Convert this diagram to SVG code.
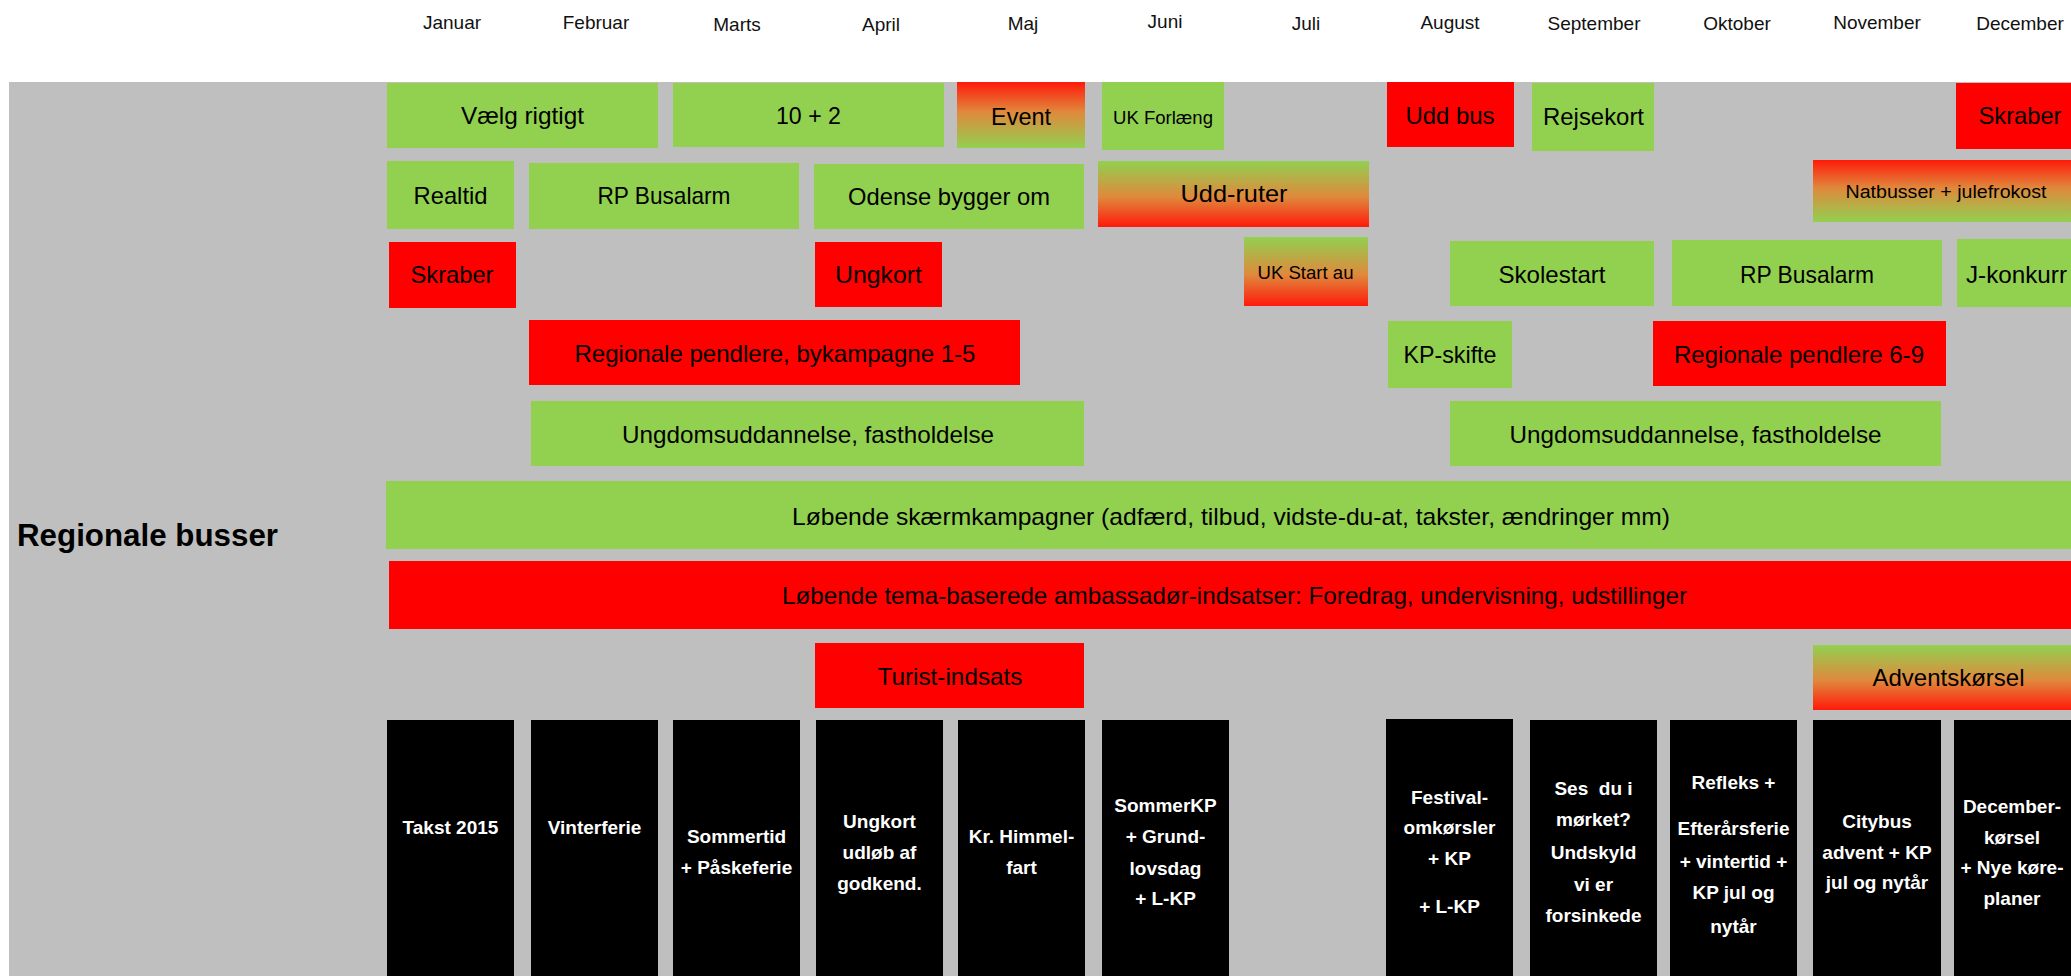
<svg xmlns="http://www.w3.org/2000/svg" width="2071" height="976" viewBox="0 0 2071 976">
<style>
.bg{fill:#BFBFBF}
.g{fill:#92D050}
.r{fill:#FF0000}
.k{fill:#000000}
.rg{fill:url(#gradRG)}
.gr{fill:url(#gradGR)}
text{font-family:"Liberation Sans",Arial,sans-serif;text-anchor:middle;fill:#000}
.t{font-size:24px}
.ts{font-size:17.5px}
.m{font-size:19px;fill:#111}
.w{font-size:19px;font-weight:bold;fill:#fff}
.title{font-size:32px;font-weight:bold;text-anchor:start}
</style>
<defs>
<linearGradient id="gradRG" x1="0" y1="0" x2="0" y2="1">
<stop offset="0" stop-color="#FF1A0A"/>
<stop offset="0.45" stop-color="#E0883C"/>
<stop offset="1" stop-color="#92D050"/>
</linearGradient>
<linearGradient id="gradGR" x1="0" y1="0" x2="0" y2="1">
<stop offset="0" stop-color="#92D050"/>
<stop offset="0.55" stop-color="#E0883C"/>
<stop offset="1" stop-color="#FF1A0A"/>
</linearGradient>
</defs>
<rect x="0" y="0" width="2071" height="976" fill="#ffffff"/>
<g id="months">
<text class="m" x="452" y="29">Januar</text>
<text class="m" x="596" y="29">Februar</text>
<text class="m" x="737" y="31">Marts</text>
<text class="m" x="881" y="31">April</text>
<text class="m" x="1023" y="30">Maj</text>
<text class="m" x="1165" y="28">Juni</text>
<text class="m" x="1306" y="30">Juli</text>
<text class="m" x="1450" y="29">August</text>
<text class="m" x="1594" y="30">September</text>
<text class="m" x="1737" y="30">Oktober</text>
<text class="m" x="1877" y="29">November</text>
<text class="m" x="2020" y="30">December</text>
</g>
<g id="lane">
<rect class="bg" x="9" y="82" width="2062" height="894"/>
<text class="title" x="17" y="546" textLength="261" lengthAdjust="spacingAndGlyphs">Regionale busser</text>
</g>
<g id="connectors"/>
<g id="n-vaelg-rigtigt"><rect class="g" x="387" y="83" width="271" height="65"/><text class="t" x="522.5" y="124" textLength="123" lengthAdjust="spacingAndGlyphs">Vælg rigtigt</text></g>
<g id="n-10-2"><rect class="g" x="673" y="83" width="271" height="64"/><text class="t" x="808.5" y="124" textLength="65" lengthAdjust="spacingAndGlyphs">10 + 2</text></g>
<g id="n-event"><rect class="rg" x="957" y="82" width="128" height="66"/><text class="t" x="1021" y="125" textLength="60" lengthAdjust="spacingAndGlyphs">Event</text></g>
<g id="n-uk-forlaeng"><rect class="g" x="1102" y="82" width="122" height="68"/><text class="ts" x="1163" y="124" textLength="100" lengthAdjust="spacingAndGlyphs">UK Forlæng</text></g>
<g id="n-udd-bus"><rect class="r" x="1387" y="82" width="127" height="65"/><text class="t" x="1450" y="124" textLength="89" lengthAdjust="spacingAndGlyphs">Udd bus</text></g>
<g id="n-rejsekort"><rect class="g" x="1532" y="83" width="122" height="68"/><text class="t" x="1593.5" y="125" textLength="101" lengthAdjust="spacingAndGlyphs">Rejsekort</text></g>
<g id="n-skraber-dec"><rect class="r" x="1956" y="83" width="130" height="66"/><text class="t" x="2020" y="124" textLength="83" lengthAdjust="spacingAndGlyphs">Skraber</text></g>

<g id="n-realtid"><rect class="g" x="387" y="161" width="127" height="68"/><text class="t" x="450.5" y="204" textLength="74" lengthAdjust="spacingAndGlyphs">Realtid</text></g>
<g id="n-rp-busalarm-1"><rect class="g" x="529" y="163" width="270" height="66"/><text class="t" x="664" y="204" textLength="133" lengthAdjust="spacingAndGlyphs">RP Busalarm</text></g>
<g id="n-odense"><rect class="g" x="814" y="164" width="270" height="65"/><text class="t" x="949" y="205" textLength="202" lengthAdjust="spacingAndGlyphs">Odense bygger om</text></g>
<g id="n-udd-ruter"><rect class="gr" x="1098" y="161" width="271" height="66"/><text class="t" x="1234" y="202" textLength="107" lengthAdjust="spacingAndGlyphs">Udd-ruter</text></g>
<g id="n-natbusser"><rect class="rg" x="1813" y="160" width="270" height="62"/><text class="ts" x="1946" y="198" textLength="201" lengthAdjust="spacingAndGlyphs">Natbusser + julefrokost</text></g>

<g id="n-skraber-jan"><rect class="r" x="389" y="242" width="127" height="66"/><text class="t" x="452" y="283" textLength="83" lengthAdjust="spacingAndGlyphs">Skraber</text></g>
<g id="n-ungkort"><rect class="r" x="815" y="242" width="127" height="65"/><text class="t" x="878.5" y="283" textLength="87" lengthAdjust="spacingAndGlyphs">Ungkort</text></g>
<g id="n-uk-start"><rect class="gr" x="1244" y="237" width="124" height="69"/><text class="ts" x="1305.5" y="279" textLength="96" lengthAdjust="spacingAndGlyphs">UK Start au</text></g>
<g id="n-skolestart"><rect class="g" x="1450" y="241" width="204" height="65"/><text class="t" x="1552" y="283" textLength="107" lengthAdjust="spacingAndGlyphs">Skolestart</text></g>
<g id="n-rp-busalarm-2"><rect class="g" x="1672" y="240" width="270" height="66"/><text class="t" x="1807" y="283" textLength="134" lengthAdjust="spacingAndGlyphs">RP Busalarm</text></g>
<g id="n-j-konkurr"><rect class="g" x="1957" y="239" width="120" height="68"/><text class="t" x="2016.5" y="283" textLength="101" lengthAdjust="spacingAndGlyphs">J-konkurr</text></g>

<g id="n-regpend-1-5"><rect class="r" x="529" y="320" width="491" height="65"/><text class="t" x="775" y="362" textLength="401" lengthAdjust="spacingAndGlyphs">Regionale pendlere, bykampagne 1-5</text></g>
<g id="n-kp-skifte"><rect class="g" x="1388" y="321" width="124" height="67"/><text class="t" x="1450" y="363" textLength="93" lengthAdjust="spacingAndGlyphs">KP-skifte</text></g>
<g id="n-regpend-6-9"><rect class="r" x="1653" y="321" width="293" height="65"/><text class="t" x="1799" y="363" textLength="250" lengthAdjust="spacingAndGlyphs">Regionale pendlere 6-9</text></g>

<g id="n-ungdom-1"><rect class="g" x="531" y="401" width="553" height="65"/><text class="t" x="808" y="443" textLength="372" lengthAdjust="spacingAndGlyphs">Ungdomsuddannelse, fastholdelse</text></g>
<g id="n-ungdom-2"><rect class="g" x="1450" y="401" width="491" height="65"/><text class="t" x="1695.5" y="443" textLength="372" lengthAdjust="spacingAndGlyphs">Ungdomsuddannelse, fastholdelse</text></g>

<g id="n-skaerm"><rect class="g" x="386" y="481" width="1690" height="68"/><text class="t" x="1231" y="525" textLength="878" lengthAdjust="spacingAndGlyphs">Løbende skærmkampagner (adfærd, tilbud, vidste-du-at, takster, ændringer mm)</text></g>
<g id="n-tema"><rect class="r" x="389" y="561" width="1690" height="68"/><text class="t" x="1234.5" y="604" textLength="905" lengthAdjust="spacingAndGlyphs">Løbende tema-baserede ambassadør-indsatser: Foredrag, undervisning, udstillinger</text></g>

<g id="n-turist"><rect class="r" x="815" y="643" width="269" height="65"/><text class="t" x="950" y="685" textLength="145" lengthAdjust="spacingAndGlyphs">Turist-indsats</text></g>
<g id="n-advent"><rect class="gr" x="1813" y="645" width="270" height="65"/><text class="t" x="1948.5" y="686" textLength="152" lengthAdjust="spacingAndGlyphs">Adventskørsel</text></g>

<g id="b-jan"><rect class="k" x="387" y="720" width="127" height="256"/><text class="w" x="450.5" y="834">Takst 2015</text></g>
<g id="b-feb"><rect class="k" x="531" y="720" width="127" height="256"/><text class="w" x="594.5" y="834">Vinterferie</text></g>
<g id="b-mar"><rect class="k" x="673" y="720" width="127" height="256"/><text class="w" x="736.5" y="843">Sommertid</text><text class="w" x="736.5" y="874">+ Påskeferie</text></g>
<g id="b-apr"><rect class="k" x="816" y="720" width="127" height="256"/><text class="w" x="879.5" y="828">Ungkort</text><text class="w" x="879.5" y="859">udløb af</text><text class="w" x="879.5" y="890">godkend.</text></g>
<g id="b-maj"><rect class="k" x="958" y="720" width="127" height="256"/><text class="w" x="1021.5" y="843">Kr. Himmel-</text><text class="w" x="1021.5" y="874">fart</text></g>
<g id="b-jun"><rect class="k" x="1102" y="720" width="127" height="256"/><text class="w" x="1165.5" y="812">SommerKP</text><text class="w" x="1165.5" y="843">+ Grund-</text><text class="w" x="1165.5" y="875">lovsdag</text><text class="w" x="1165.5" y="905">+ L-KP</text></g>
<g id="b-aug"><rect class="k" x="1386" y="719" width="127" height="257"/><text class="w" x="1449.5" y="804">Festival-</text><text class="w" x="1449.5" y="834">omkørsler</text><text class="w" x="1449.5" y="865">+ KP</text><text class="w" x="1449.5" y="913">+ L-KP</text></g>
<g id="b-sep"><rect class="k" x="1530" y="720" width="127" height="256"/><text class="w" x="1593.5" y="795" xml:space="preserve">Ses  du i</text><text class="w" x="1593.5" y="826">mørket?</text><text class="w" x="1593.5" y="859">Undskyld</text><text class="w" x="1593.5" y="891">vi er</text><text class="w" x="1593.5" y="922">forsinkede</text></g>
<g id="b-okt"><rect class="k" x="1670" y="720" width="127" height="256"/><text class="w" x="1733.5" y="789">Refleks +</text><text class="w" x="1733.5" y="835">Efterårsferie</text><text class="w" x="1733.5" y="868">+ vintertid +</text><text class="w" x="1733.5" y="899">KP jul og</text><text class="w" x="1733.5" y="933">nytår</text></g>
<g id="b-nov"><rect class="k" x="1813" y="720" width="128" height="256"/><text class="w" x="1877" y="828">Citybus</text><text class="w" x="1877" y="859">advent + KP</text><text class="w" x="1877" y="889">jul og nytår</text></g>
<g id="b-dec"><rect class="k" x="1954" y="720" width="127" height="256"/><text class="w" x="2012" y="813">December-</text><text class="w" x="2012" y="844">kørsel</text><text class="w" x="2012" y="874">+ Nye køre-</text><text class="w" x="2012" y="905">planer</text></g>
</svg>
